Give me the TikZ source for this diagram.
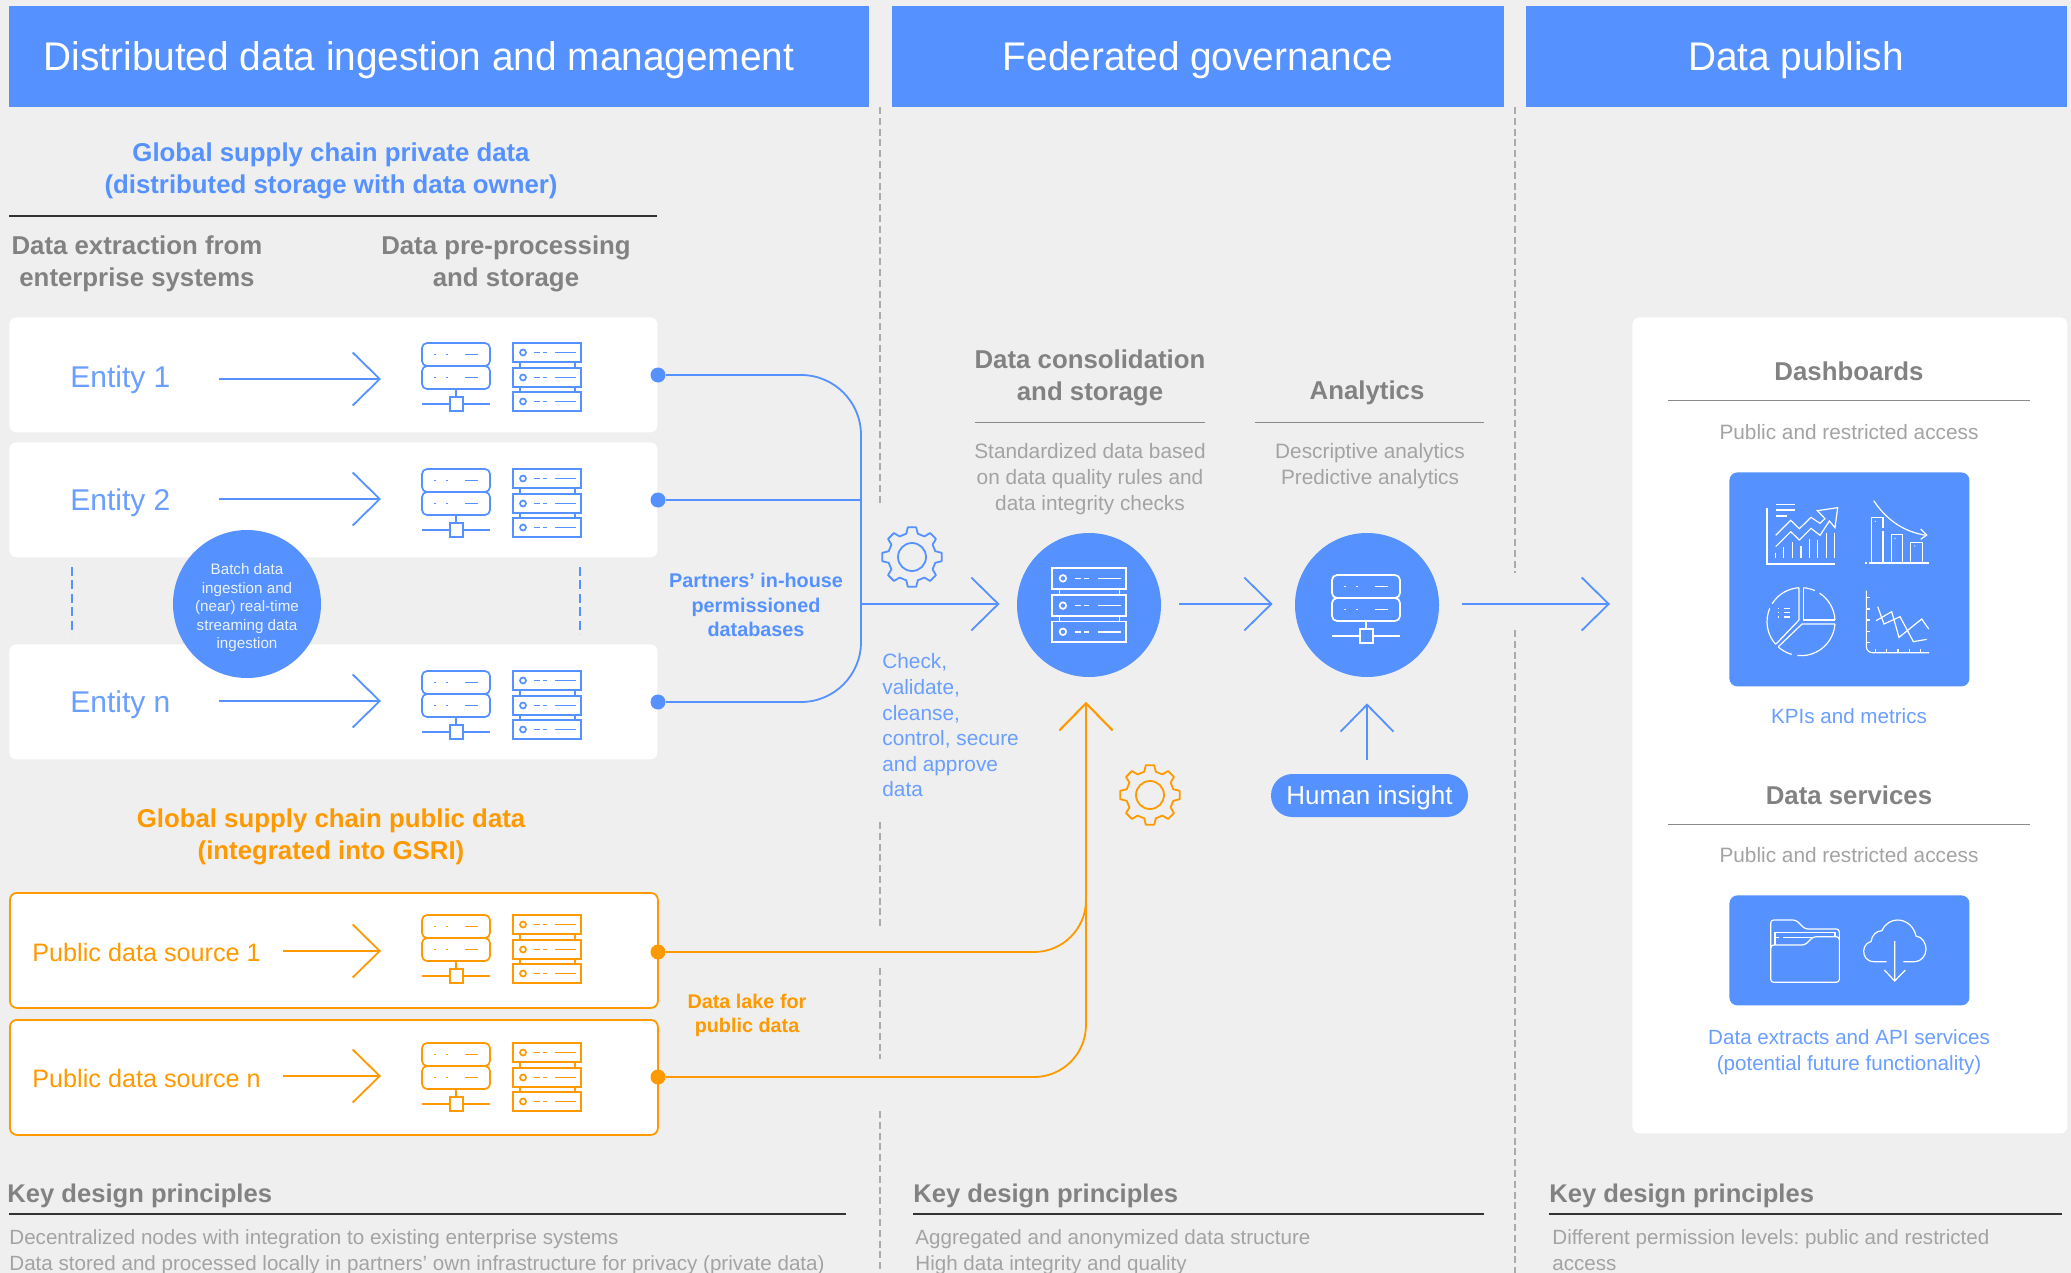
\documentclass[tikz,border=0pt]{standalone}
\usepackage{fontspec}
\setmainfont{Liberation Sans}
\newfontfamily\narrow[FakeStretch=0.97]{Liberation Sans}
\usetikzlibrary{arrows.meta,calc}
\definecolor{bgc}{HTML}{EFEFEF}
\definecolor{bc}{HTML}{5591FF}
\definecolor{bt}{HTML}{6A9EFF}
\definecolor{oc}{HTML}{FF9900}
\definecolor{gh}{HTML}{828282}
\definecolor{gt}{HTML}{A3A3A3}
\definecolor{rl}{HTML}{333333}
\definecolor{rg}{HTML}{8A8A8A}
\definecolor{vd}{HTML}{ABABAB}
\newcommand{\sz}[2]{\fontsize{#1}{#2}\selectfont}
\frenchspacing
\tikzset{
 header/.style={fill=bc,anchor=north west,minimum height=50.5pt,inner sep=0pt},
 headt/.style={inner sep=0pt,text=white,font=\narrow\sz{20}{24}},
 wbox/.style={fill=white,rounded corners=3.5pt,anchor=north west,minimum height=57.5pt,minimum width=324pt,inner sep=0pt},
 obox/.style={wbox,draw=oc,line width=.9pt},
 txt/.style={inner sep=0pt,align=center},
 ltxt/.style={inner sep=0pt,align=left,anchor=west},
 hd/.style={txt,text=gh,font=\bfseries\sz{12.9}{16}},
 bl/.style={txt,text=gt,font=\sz{10.4}{13}},
 ent/.style={ltxt,text=bt,font=\sz{15}{18}},
 pub/.style={ltxt,text=oc,font=\sz{12.6}{15}},
 dot/.style={circle,minimum size=7.5pt,inner sep=0pt},
 disc/.style={circle,fill=bc,minimum size=72pt,inner sep=0pt},
 line/.style={draw=bc,line width=.9pt},
 oline/.style={draw=oc,line width=.9pt},
 barb/.style={-{Straight Barb[length=13.5pt,width=26.5pt,line width=.9pt]}},
 vdash/.style={draw=vd,line width=.7pt,dash pattern=on 3.5pt off 1.9pt},
 bdash/.style={draw=bc,line width=1pt,dash pattern=on 4.5pt off 2.2pt},
 srvA/.pic={
  \begin{scope}[line width=.85pt]
  \draw[rounded corners=2.5pt] (0,0) rectangle (68,23);
  \draw[rounded corners=2.5pt] (0,23) rectangle (68,46);
  \foreach \y in {11.6,34.4}{
   \draw[line width=.8pt] (12,\y) -- (14,\y) (24,\y) -- (26,\y) (43,\y) -- (56,\y);}
  \draw (34,46) -- (34,54) (0,61) -- (28,61) (41,61) -- (68,61);
  \draw (28,54) rectangle (41,68);
  \end{scope}},
 srvB/.pic={
  \begin{scope}[line width=.85pt]
  \foreach \a/\b in {0/19,25/44,49/68}{
   \draw (0,\a) rectangle (68,\b);
   \pgfmathsetmacro{\m}{(\a+\b)/2}
   \draw (10,\m) circle (3);
   \draw (21,\m) -- (27,\m) (29.5,\m) -- (34,\m) (42,\m) -- (63,\m);}
  \draw (7,19) -- (7,25) (62,19) -- (62,25) (7,44) -- (7,49) (62,44) -- (62,49);
  \end{scope}},
 gear/.pic={
  \draw[line width=.9pt,line join=round] (-14:24) \foreach \a in {0,45,...,315}{ -- (\a-14:24) -- (\a-8:30) -- (\a+8:30) -- (\a+14:24)} -- cycle;
  \draw[line width=.9pt] (0,0) circle (14);}
}
\begin{document}
\begin{tikzpicture}[x=0.5pt,y=-0.5pt]
\useasboundingbox (0,0) rectangle (2071,1273);
\fill[bgc] (0,0) rectangle (2071,1273);

% dashed separators
\coordinate (v1a) at (880,107); \coordinate (v1b) at (880,504);
\coordinate (v1c) at (880,822); \coordinate (v1d) at (880,926);
\coordinate (v1e) at (880,968); \coordinate (v1f) at (880,1059);
\coordinate (v1g) at (880,1111); \coordinate (v1h) at (880,1273);
\coordinate (v2a) at (1515,107); \coordinate (v2b) at (1515,573);
\coordinate (v2c) at (1515,630); \coordinate (v2d) at (1515,1273);
\draw[vdash] (v1a)--(v1b) (v1c)--(v1d) (v1e)--(v1f) (v1g)--(v1h) (v2a)--(v2b) (v2c)--(v2d);

% headers
\node[header,minimum width=430pt] (h1) at (9,6) {};
\node[headt] (h1t) at (419,60) {Distributed data ingestion and management};
\node[header,minimum width=306pt] (h2) at (892,6) {};
\node[headt] (h2t) at (1198,60) {Federated governance};
\node[header,minimum width=270.5pt] (h3) at (1526,6) {};
\node[headt] (h3t) at (1796,60) {Data publish};

% left column titles
\node[txt,text=bc,font=\bfseries\sz{12.9}{16}] (gt1) at (331,170.5) {Global supply chain private data\\(distributed storage with data owner)};
\coordinate (r1a) at (9,216); \coordinate (r1b) at (657,216);
\draw[rl,line width=.6pt] (r1a)--(r1b);
\node[hd] (ex) at (137,264) {Data extraction from\\enterprise systems};
\node[hd] (pp) at (506,264) {Data pre-processing\\and storage};

% white boxes
\node[wbox] (b1) at (9,317) {};
\node[wbox] (b2) at (9,442) {};
\node[wbox] (b3) at (9,644) {};
\node[ent] (e1) at (70,380) {Entity 1};
\node[ent] (e2) at (70,503) {Entity 2};
\node[ent] (e3) at (70,705) {Entity n};
\foreach \n/\y in {1/379,2/499,3/701}{
 \coordinate (as\n) at (219,\y); \coordinate (ae\n) at (381,\y);
 \draw[line,barb] (as\n)--(ae\n);}
\pic[color=bc] at (422,343) {srvA}; \pic[color=bc] at (513,343) {srvB};
\pic[color=bc] at (422,469) {srvA}; \pic[color=bc] at (513,469) {srvB};
\pic[color=bc] at (422,671) {srvA}; \pic[color=bc] at (513,671) {srvB};
\coordinate (bd1) at (72,567); \coordinate (bd2) at (72,634);
\coordinate (bd3) at (580,567); \coordinate (bd4) at (580,634);
\draw[bdash] (bd1)--(bd2) (bd3)--(bd4);
\node[circle,fill=bc,minimum size=74pt,inner sep=0pt] (batch) at (247,604) {};
\node[txt,text=white!88!bc,font=\sz{7.6}{9.25}] (batcht) at (247,608)
 {Batch data\\ingestion and\\(near) real-time\\streaming data\\ingestion};

% blue trunk
\node[dot,fill=bc] (d1) at (658,375) {};
\node[dot,fill=bc] (d2) at (658,500) {};
\node[dot,fill=bc] (d3) at (658,702) {};
\coordinate (jn) at (861,604);
\node[disc] (db) at (1089,605) {};
\node[disc] (an) at (1367,605) {};
\draw[line,rounded corners=30pt] (d1) -- (d1-|jn) -- (d3-|jn) -- (d3);
\draw[line] (d2) -- (d2-|jn);
\draw[line,barb,shorten >=8.5pt] (jn) -- (jn-|db.west);
\draw[line,barb,shorten <=9pt,shorten >=11pt] (jn-|db.east) -- (jn-|an.west);
\coordinate (dashIn) at (1632,604);
\draw[line,barb,shorten <=11.5pt,shorten >=11pt] (jn-|an.east) -- (dashIn);
\pic[color=white,scale=1.09] at (1052,568) {srvB};
\pic[color=white] at (1332,575) {srvA};
\pic[color=bc] at (912,557) {gear};
\pic[color=oc] at (1150,795) {gear};

\node[txt,text=bc,font=\bfseries\sz{9.9}{12.25}] (pin) at (756,605) {Partners’ in-house\\permissioned\\databases};
\node[ltxt,text=bt,font=\sz{10.4}{12.8}] (chk) at (882,725.5) {Check,\\validate,\\cleanse,\\control, secure\\and approve\\data};

% public data
\node[txt,text=oc,font=\bfseries\sz{12.9}{16}] (gt2) at (331,836.5) {Global supply chain public data\\(integrated into GSRI)};
\node[obox] (p1) at (9,892) {};
\node[obox] (p2) at (9,1019) {};
\node[pub] (p1t) at (32,952.5) {Public data source 1};
\node[pub] (p2t) at (32,1078.5) {Public data source n};
\foreach \n/\y in {1/951,2/1076}{
 \coordinate (os\n) at (283,\y); \coordinate (oe\n) at (381,\y);
 \draw[oline,barb] (os\n)--(oe\n);}
\pic[color=oc] at (422,915) {srvA}; \pic[color=oc] at (513,915) {srvB};
\pic[color=oc] at (422,1043) {srvA}; \pic[color=oc] at (513,1043) {srvB};
\node[dot,fill=oc] (o1) at (658,952) {};
\node[dot,fill=oc] (o2) at (658,1077) {};
\coordinate (ou) at (1086,702);
\draw[oline,rounded corners=26pt,barb] (o1) -- (o1-|ou) -- (ou);
\draw[oline,rounded corners=26pt,barb] (o2) -- (o2-|ou) -- (ou);
\node[txt,text=oc,font=\bfseries\sz{9.9}{12.25}] (lake) at (747,1015.5) {Data lake for\\public data};

% centre labels
\node[hd] (cs) at (1090,377.5) {Data consolidation\\and storage};
\node[hd] (ana) at (1367,393) {Analytics};
\coordinate (r2a) at (975,422); \coordinate (r2b) at (1205,422);
\coordinate (r3a) at (1255,422); \coordinate (r3b) at (1484,422);
\draw[rg,line width=.5pt] (r2a)--(r2b) (r3a)--(r3b);
\node[bl] (std) at (1090,479.5) {Standardized data based\\on data quality rules and\\data integrity checks};
\node[bl] (des) at (1370,466.5) {Descriptive analytics\\Predictive analytics};
\node[fill=bc,rounded corners=10.7pt,minimum width=98.5pt,minimum height=21.5pt,inner sep=0pt] (hi) at (1369.5,795.5) {};
\node[inner sep=0pt,text=white,font=\sz{13}{15}] (hit2) at (1369.5,798) {Human insight};
\coordinate (hit) at (an|-hi.north);
\draw[line,barb,shorten <=7pt,shorten >=13pt] (hit) -- (an.south);

% right panel
\node[fill=white,rounded corners=3.5pt,anchor=north west,minimum width=217.5pt,minimum height=408pt,inner sep=0pt] (panel) at (1632,317) {};
\node[hd] (dash) at (1849,371) {Dashboards};
\coordinate (r4a) at (1668,400); \coordinate (r4b) at (2030,400);
\coordinate (r5a) at (1668,824); \coordinate (r5b) at (2030,824);
\draw[rg,line width=.5pt] (r4a)--(r4b) (r5a)--(r5b);
\node[bl] (acc1) at (1849,432) {Public and restricted access};
\node[fill=bc,rounded corners=4pt,anchor=north west,minimum width=120pt,minimum height=107pt,inner sep=0pt] (kp) at (1729,472) {};
\node[txt,text=bt,font=\sz{10.3}{13}] (kpt) at (1849,716) {KPIs and metrics};
\node[hd] (ds) at (1849,795) {Data services};
\node[bl] (acc2) at (1849,855) {Public and restricted access};
\node[fill=bc,rounded corners=4pt,anchor=north west,minimum width=120pt,minimum height=55pt,inner sep=0pt] (ex2) at (1729,895) {};
\node[txt,text=bt,font=\sz{10.3}{13}] (ext) at (1849,1052.5) {Data extracts and API services\\(potential future functionality)};

% KPI icons (coordinates of a 3x crop at 1700,460)
\begin{scope}[shift={(1700,460)},x=0.16667pt,y=-0.16667pt,white,line width=.6pt]
 \draw (201,143)--(201,312)--(404,312);
 \draw (227,133)--(285,133) (227,150)--(285,150) (227,168)--(260,168);
 \draw (227,226)--(272,181)--(298,206)--(333,172)--(360,190)--(375,176)--(352,152)--(413,143)--(405,203)--(388,183)--(360,226)--(333,205)--(298,240)--(272,215)--(227,260);
 \foreach \x/\y in {227/278,251/262,277/245,303/257,328/236,353/240,379/218,404/218}{\draw (\x,\y)--(\x,295);}
 \draw (521,122) .. controls (560,180) and (610,215) .. (678,226);
 \draw (662,207)--(680,225)--(662,238);
 \draw (515,307)--(515,173)--(549,173)--(549,205) (549,212)--(549,307);
 \draw (574,307)--(574,224)--(607,224)--(607,307);
 \draw (632,307)--(632,247)--(667,247)--(667,307);
 \draw (507,309)--(687,309) (495,309)--(500,309);
 \fill (526,184) circle (2) (585,235) circle (2) (644,258) circle (2);
 \def\cc{(303,485)}
 \draw \cc ++(-86:102) arc[start angle=-86,end angle=-66,radius=102];
 \draw \cc ++(-57:102) arc[start angle=-57,end angle=-3,radius=102];
 \draw (310,383)--(310,480)--(405,480);
 \draw \cc ++(-93.4:102) arc[start angle=-93.4,end angle=-148,radius=102];
 \draw \cc ++(-157:102) arc[start angle=-157,end angle=-222,radius=102];
 \draw (297,383)--(297,480)--(228,552);
 \draw \cc ++(4:102) arc[start angle=4,end angle=96,radius=102];
 \draw \cc ++(106:102) arc[start angle=106,end angle=132,radius=102];
 \draw (405,492)--(306,492)--(235,560);
 \foreach \y in {445,458,471}{\draw (235,\y)--(238,\y) (252,\y)--(270,\y);}
 \draw[rounded corners=3pt] (499,392)--(499,578)--(687,578);
 \foreach \y in {412,447,480,514,548}{\draw (499,\y)--(510,\y);}
 \foreach \x in {526,560,594,628,662}{\draw (\x,567)--(\x,578);}
 \draw (533,440)--(552,492)--(600,470)--(640,545)--(680,538);
 \draw (528,482)--(575,455)--(597,532)--(665,477)--(686,507);
\end{scope}
% folder and cloud icons (coordinates of a 3x crop at 1700,880)
\begin{scope}[shift={(1700,880)},x=0.16667pt,y=-0.16667pt,white,line width=.6pt]
 \draw[rounded corners=1.5pt] (212,205)--(212,120)--(288,120)--(315,147)--(418,147)--(418,178);
 \draw[rounded corners=1.5pt] (212,195)--(315,195)--(340,170)--(418,170)--(418,307)--(212,307)--cycle;
 \draw (225,195)--(225,157)--(405,157)--(405,170);
 \draw (225,172)--(237,172) (250,172)--(335,172);
 \draw (560,245)--(522,245) .. controls (500,245) and (490,228) .. (491,212) .. controls (492,195) and (505,186) .. (513,185) .. controls (515,165) and (530,152) .. (546,152) .. controls (555,130) and (575,120) .. (592,120) .. controls (620,120) and (642,140) .. (648,168) .. controls (668,170) and (678,192) .. (678,207) .. controls (678,228) and (662,245) .. (645,245) -- (610,245);
 \draw (584,183)--(584,303) (553,270)--(584,303)--(616,270);
\end{scope}

% key design principles
\foreach \k/\tx/\rx/\re in {a/7/9/846,b/913/913/1484,c/1549/1549/2062}{
 \node[ltxt,text=gh,font=\bfseries\sz{12.8}{16}] (k\k) at (\tx,1195.5) {Key design principles};
 \coordinate (kr\k) at (\rx,1214); \coordinate (ke\k) at (\re,1214);
 \draw[rl,line width=.6pt] (kr\k)--(ke\k);}
\node[ltxt,text=gt,font=\sz{10.3}{13}] (t1) at (9,1252.5) {Decentralized nodes with integration to existing enterprise systems\\Data stored and processed locally in partners’ own infrastructure for privacy (private data)};
\node[ltxt,text=gt,font=\sz{10.3}{13}] (t2) at (915,1252.5) {Aggregated and anonymized data structure\\High data integrity and quality};
\node[ltxt,text=gt,font=\sz{10.3}{13}] (t3) at (1552,1250) {Different permission levels: public and restricted\\access};
\end{tikzpicture}
\end{document}
